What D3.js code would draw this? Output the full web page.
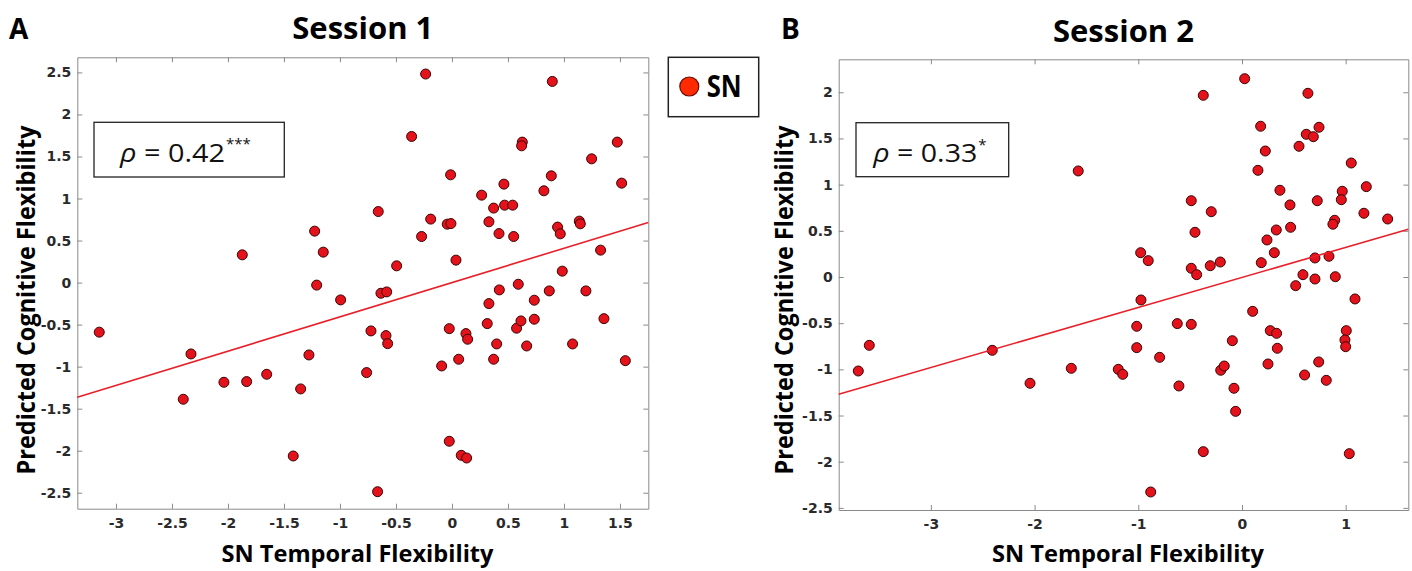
<!DOCTYPE html>
<html>
<head>
<meta charset="utf-8">
<script src="https://cdn.jsdelivr.net/npm/d3@7"></script>
<style>
  body { margin: 0; background: #fff; }
  svg { display: block; font-family: "Open Sans", sans-serif; }
  .tick text { font-family: "DejaVu Sans", sans-serif; font-weight: bold; font-size: 14px; fill: #2a2a2a; }
  .axis path, .axis line { stroke: #8a8a8a; }
</style>
</head>
<body>
<svg id="chart" width="1412" height="571"></svg>
<script>
// --- DATOS ---
const session1X = [-3.149,-2.330,-2.399,-2.036,-1.833,-1.654,-1.277,-1.351,-1.417,-0.994,
  -1.208,-1.872,-1.226,-1.149,-0.235,0.896,-0.360,0.628,0.622,1.476,
  1.247,-0.012,0.887,1.515,0.464,0.821,0.265,0.372,0.470,0.542,
  -0.658,-0.190,0.330,-0.042,-0.009,1.137,1.146,0.943,0.967,0.420,
  -0.271,0.551,1.327,-0.494,0.036,0.985,-0.634,-0.583,0.423,0.592,
  0.869,1.196,0.330,0.735,-0.723,-0.589,-0.574,-0.762,-0.024,0.125,
  0.140,0.315,0.399,0.372,0.060,-0.092,0.577,0.616,0.667,0.735,
  1.077,1.357,1.548,-0.024,0.083,0.131,-0.664];
const session1Y = [-0.59,-0.849,-1.388,-1.186,-1.178,-1.091,-0.861,-1.265,-2.063,-0.206,
  -0.03,0.33,0.612,0.362,2.481,2.393,1.738,1.671,1.627,1.671,
  1.472,1.282,1.270,1.183,1.171,1.092,1.040,0.886,0.921,0.921,
  0.845,0.755,0.723,0.695,0.702,0.731,0.699,0.660,0.580,0.583,
  0.548,0.548,0.386,0.199,0.267,0.136,-0.127,-0.111,-0.087,-0.020,
  -0.099,-0.099,-0.250,-0.210,-0.575,-0.631,-0.726,-1.071,-0.548,-0.607,
  -0.674,-0.488,-0.730,-0.912,-0.912,-0.992,-0.543,-0.456,-0.754,-0.436,
  -0.730,-0.429,-0.929,-1.888,-2.055,-2.087,-2.488];

const session2X = [-1.579,-3.700,-3.594,-2.408,-2.044,-1.646,0.026,-0.373,0.636,0.180,
  0.743,0.620,0.688,0.225,0.550,0.154,1.054,0.366,1.199,0.967,
  0.958,-0.489,0.726,0.463,-0.296,1.176,1.405,0.894,0.877,0.469,
  0.331,-0.453,0.241,0.312,-0.977,-0.904,-0.209,-0.306,0.186,0.704,
  0.839,-0.489,-0.437,0.588,0.704,0.900,0.518,-0.974,1.090,0.103,
  -1.015,-0.624,-0.489,0.273,0.334,1.006,-0.093,0.993,1.000,-1.015,
  0.341,-0.794,-1.193,-1.150,-0.205,-0.171,0.251,0.740,0.604,0.813,
  -0.608,-0.077,-0.061,-0.373,1.035,-0.880];
const session2Y = [1.148,-1.018,-0.740,-0.794,-1.151,-0.989,2.147,1.967,1.989,1.632,
  1.621,1.545,1.519,1.364,1.415,1.155,1.234,0.939,0.978,0.928,
  0.837,0.826,0.826,0.780,0.707,0.690,0.628,0.614,0.571,0.538,
  0.509,0.484,0.401,0.263,0.263,0.177,0.162,0.122,0.155,0.206,
  0.224,0.094,0.025,0.025,-0.022,0.003,-0.094,-0.249,-0.238,-0.372,
  -0.534,-0.505,-0.513,-0.581,-0.610,-0.581,-0.690,-0.682,-0.755,-0.765,
  -0.772,-0.870,-1.000,-1.054,-1.010,-0.964,-0.942,-0.920,-1.061,-1.119,
  -1.180,-1.205,-1.455,-1.891,-1.913,-2.328];

// Ajuste lineal (pendiente, intercepto)
const fit1 = [0.408, 0.0];
const fit2 = [0.325, -0.005];

// Ejes
const xDomain1 = [-3.345, 1.753];
const yDomain1 = [-2.69, 2.68];
const xDomain2 = [-3.889, 1.604];
const yDomain2 = [-2.523, 2.357];
const xTicks1 = [-3, -2.5, -2, -1.5, -1, -0.5, 0, 0.5, 1, 1.5];
const yTicks1 = [-2.5, -2, -1.5, -1, -0.5, 0, 0.5, 1, 1.5, 2, 2.5];
const xTicks2 = [-3, -2, -1, 0, 1];
const yTicks2 = [-2.5, -2, -1.5, -1, -0.5, 0, 0.5, 1, 1.5, 2];

// Textos
const panelLetters = ["A", "B"];
const panelTitles = ["Session 1", "Session 2"];
const rhoValues = ["0.42", "0.33"];
const rhoStars = ["***", "*"];
const xLabel = "SN Temporal Flexibility";
const yLabel = "Predicted Cognitive Flexibility";
const legendLabel = "SN";

const svg = d3.select("#chart");
const fmt = d => String(d);

// --- DIBUJO DE UN PANEL ---
function drawPanel(p) {
    const x = d3.scaleLinear().domain(p.xDomain).range([p.left, p.right]);
    const y = d3.scaleLinear().domain(p.yDomain).range([p.bottom, p.top]);

    const g = svg.append("g");

    // ejes estilo MATLAB (caja con ticks hacia dentro)
    g.append("g").attr("class", "axis")
        .attr("transform", `translate(0,${p.bottom})`)
        .call(d3.axisBottom(x).tickValues(p.xTicks).tickFormat(fmt).tickSizeInner(-5).tickSizeOuter(0).tickPadding(9));
    g.append("g").attr("class", "axis")
        .attr("transform", `translate(0,${p.top})`)
        .call(d3.axisTop(x).tickValues(p.xTicks).tickFormat("").tickSizeInner(-5).tickSizeOuter(0));
    g.append("g").attr("class", "axis")
        .attr("transform", `translate(${p.left},0)`)
        .call(d3.axisLeft(y).tickValues(p.yTicks).tickFormat(fmt).tickSizeInner(-5).tickSizeOuter(0).tickPadding(6));
    g.append("g").attr("class", "axis")
        .attr("transform", `translate(${p.right},0)`)
        .call(d3.axisRight(y).tickValues(p.yTicks).tickFormat("").tickSizeInner(-5).tickSizeOuter(0));

    // puntos
    g.append("g").selectAll("circle")
        .data(d3.zip(p.xs, p.ys))
        .join("circle")
        .attr("cx", d => x(d[0]))
        .attr("cy", d => y(d[1]))
        .attr("r", 5)
        .attr("fill", "#e3121b")
        .attr("stroke", "#3a0505")
        .attr("stroke-width", 1);

    // recta de regresión
    g.append("path")
        .datum(p.xDomain)
        .attr("fill", "none")
        .attr("stroke", "#e8202a")
        .attr("stroke-width", 1.6)
        .attr("d", d3.line().x(v => x(v)).y(v => y(p.fit[0] * v + p.fit[1])));

    // caja con rho
    g.append("rect")
        .attr("x", p.box[0]).attr("y", p.box[1]).attr("width", p.box[2]).attr("height", p.box[3])
        .attr("fill", "#fff").attr("stroke", "#222").attr("stroke-width", 1.3);
    const t = g.append("text")
        .attr("x", p.rhoX).attr("y", p.box[1] + 39.5)
        .attr("font-size", 25).attr("fill", "#111")
        .attr("textLength", p.rhoLen).attr("lengthAdjust", "spacingAndGlyphs");
    t.append("tspan").attr("font-style", "italic").text("ρ");
    t.append("tspan").text(" = " + p.rho);
    g.append("text")
        .attr("x", p.rhoX + p.rhoLen + 1).attr("y", p.box[1] + 27)
        .attr("font-size", 15).attr("fill", "#111")
        .text(p.stars);

    // títulos y etiquetas
    g.append("text")
        .attr("x", (p.left + p.right) / 2).attr("y", p.titleY)
        .attr("text-anchor", "middle").attr("font-weight", "bold").attr("font-size", 31)
        .text(p.title);
    g.append("text")
        .attr("x", p.letterX).attr("y", 39)
        .attr("font-weight", "bold").attr("font-size", 28)
        .text(p.letter);
    g.append("text")
        .attr("x", p.xLabelX).attr("y", 562)
        .attr("text-anchor", "middle").attr("font-weight", "bold").attr("font-size", 24)
        .attr("textLength", 272).attr("lengthAdjust", "spacingAndGlyphs")
        .text(xLabel);
    g.append("text")
        .attr("transform", `translate(${p.yLabelX},300) rotate(-90)`)
        .attr("text-anchor", "middle").attr("font-weight", "bold").attr("font-size", 25)
        .attr("textLength", 349).attr("lengthAdjust", "spacingAndGlyphs")
        .text(yLabel);
}

drawPanel({
    xs: session1X, ys: session1Y, fit: fit1,
    xDomain: xDomain1, yDomain: yDomain1, xTicks: xTicks1, yTicks: yTicks1,
    left: 77.3, right: 648.3, top: 57.3, bottom: 508.7,
    box: [94, 122.3, 190.3, 54.7], rhoX: 120, rhoLen: 105,
    rho: rhoValues[0], stars: rhoStars[0],
    title: panelTitles[0], titleY: 39, letter: panelLetters[0], letterX: 9,
    xLabelX: 357.5, yLabelX: 35
});

drawPanel({
    xs: session2X, ys: session2Y, fit: fit2,
    xDomain: xDomain2, yDomain: yDomain2, xTicks: xTicks2, yTicks: yTicks2,
    left: 838.7, right: 1408.3, top: 59.3, bottom: 510,
    box: [856, 122.7, 152.7, 54], rhoX: 873.3, rhoLen: 104,
    rho: rhoValues[1], stars: rhoStars[1],
    title: panelTitles[1], titleY: 42.3, letter: panelLetters[1], letterX: 781,
    xLabelX: 1128, yLabelX: 793
});

// leyenda
const legend = svg.append("g");
legend.append("rect")
    .attr("x", 668.3).attr("y", 57.3).attr("width", 90.4).attr("height", 59.4)
    .attr("fill", "#fff").attr("stroke", "#222").attr("stroke-width", 1.5);
legend.append("circle")
    .attr("cx", 689.3).attr("cy", 86.5).attr("r", 9.5)
    .attr("fill", "#ff2a00").attr("stroke", "#6a1000").attr("stroke-width", 1.2);
legend.append("text")
    .attr("x", 706.7).attr("y", 96.5)
    .attr("font-weight", "bold").attr("font-size", 30)
    .attr("textLength", 35).attr("lengthAdjust", "spacingAndGlyphs")
    .text(legendLabel);
</script>
</body>
</html>
